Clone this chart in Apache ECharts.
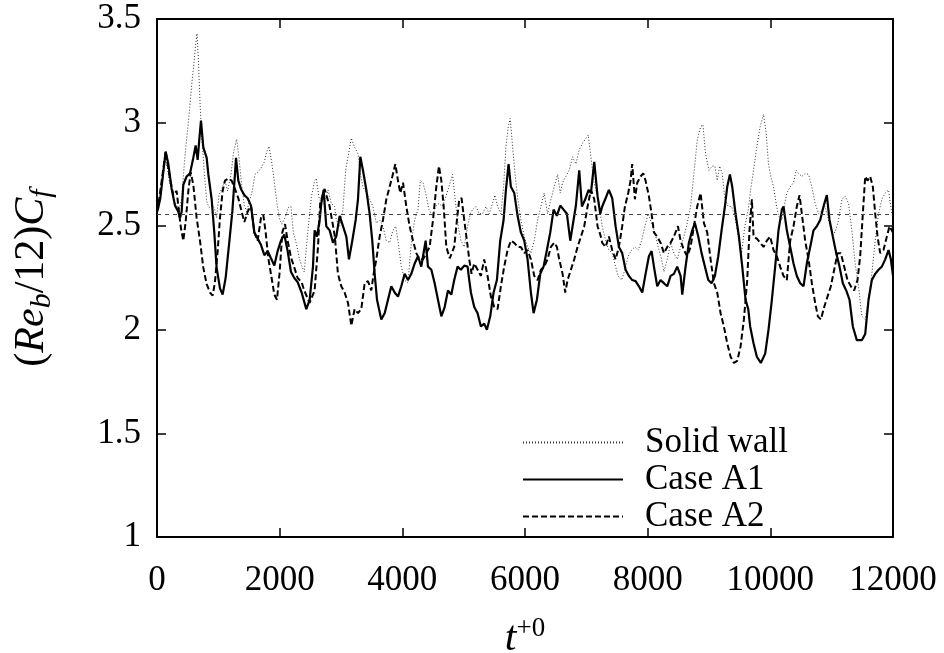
<!DOCTYPE html>
<html>
<head>
<meta charset="utf-8">
<script src="https://cdn.jsdelivr.net/npm/echarts@6/dist/echarts.min.js"></script>
<style>
html,body{margin:0;padding:0;background:#fff;}
#chart{width:944px;height:653px;}
</style>
</head>
<body>
<div id="chart"></div>
<script>
const seriesNames = ['Solid wall', 'Case A1', 'Case A2'];
const xTicks = {min: 0, max: 12000, interval: 2000};
const yTicks = {min: 1, max: 3.5, interval: 0.5};
const solidWallMean = 2.555;

const solidWall = [[0,2.58],[60,2.65],[141,2.83],[212,2.70],[266,2.635],[320,2.60],[358,2.57],[402,2.635],[445,2.80],[483,2.92],[527,3.05],[565,3.18],[603,3.29],[630,3.375],[652,3.43],[674,3.31],[701,3.10],[728,2.94],[771,2.76],[810,2.62],[848,2.59],[891,2.60],[934,2.59],[972,2.54],[1011,2.65],[1054,2.68],[1108,2.72],[1152,2.67],[1206,2.75],[1250,2.86],[1299,2.92],[1337,2.83],[1380,2.70],[1424,2.60],[1462,2.57],[1505,2.62],[1554,2.67],[1598,2.75],[1641,2.76],[1695,2.78],[1750,2.81],[1788,2.86],[1826,2.885],[1869,2.81],[1913,2.715],[1951,2.62],[1995,2.54],[2032,2.51],[2087,2.54],[2141,2.59],[2184,2.595],[2222,2.47],[2277,2.41],[2320,2.345],[2358,2.31],[2400,2.28],[2461,2.48],[2516,2.64],[2570,2.72],[2597,2.73],[2641,2.64],[2679,2.61],[2733,2.61],[2788,2.675],[2842,2.61],[2896,2.595],[2923,2.53],[2978,2.50],[3032,2.58],[3076,2.77],[3114,2.835],[3168,2.925],[3222,2.88],[3277,2.85],[3315,2.755],[3358,2.69],[3413,2.66],[3467,2.63],[3521,2.595],[3576,2.515],[3630,2.53],[3684,2.50],[3739,2.43],[3793,2.42],[3847,2.48],[3891,2.50],[3929,2.43],[3983,2.305],[4038,2.24],[4092,2.225],[4146,2.42],[4201,2.53],[4255,2.58],[4293,2.72],[4337,2.71],[4380,2.66],[4434,2.58],[4489,2.55],[4543,2.595],[4597,2.61],[4652,2.595],[4706,2.64],[4760,2.69],[4819,2.75],[4874,2.595],[4912,2.50],[4955,2.43],[5009,2.40],[5064,2.50],[5107,2.56],[5145,2.58],[5200,2.595],[5254,2.56],[5308,2.56],[5363,2.595],[5417,2.56],[5471,2.61],[5509,2.65],[5553,2.595],[5607,2.56],[5651,2.69],[5689,2.885],[5727,2.98],[5759,3.02],[5797,2.885],[5836,2.755],[5879,2.64],[5933,2.53],[5988,2.45],[6042,2.40],[6096,2.37],[6151,2.43],[6205,2.53],[6259,2.595],[6313,2.66],[6368,2.56],[6422,2.63],[6477,2.69],[6531,2.75],[6575,2.66],[6613,2.71],[6667,2.74],[6721,2.77],[6775,2.835],[6830,2.80],[6884,2.87],[6939,2.90],[6993,2.925],[7031,2.94],[7075,2.835],[7118,2.72],[7156,2.675],[7194,2.63],[7259,2.50],[7314,2.43],[7368,2.385],[7422,2.37],[7477,2.305],[7520,2.26],[7575,2.24],[7629,2.29],[7683,2.355],[7738,2.385],[7792,2.40],[7846,2.385],[7901,2.43],[7955,2.50],[8009,2.56],[8064,2.515],[8118,2.47],[8172,2.40],[8227,2.34],[8265,2.28],[8319,2.34],[8374,2.42],[8428,2.37],[8482,2.34],[8537,2.40],[8591,2.45],[8645,2.515],[8700,2.595],[8754,2.755],[8808,2.915],[8863,2.98],[8901,2.99],[8944,2.85],[8999,2.77],[9053,2.79],[9096,2.79],[9134,2.72],[9173,2.79],[9216,2.755],[9259,2.63],[9314,2.595],[9368,2.595],[9422,2.55],[9477,2.45],[9531,2.37],[9585,2.50],[9640,2.58],[9671,2.66],[9726,2.77],[9780,2.885],[9834,2.98],[9889,3.04],[9932,2.95],[9970,2.80],[10008,2.74],[10052,2.69],[10095,2.61],[10133,2.55],[10188,2.53],[10226,2.595],[10269,2.66],[10324,2.69],[10378,2.71],[10421,2.77],[10459,2.755],[10514,2.74],[10568,2.755],[10623,2.75],[10677,2.69],[10731,2.61],[10786,2.56],[10840,2.575],[10894,2.595],[10948,2.53],[11003,2.47],[11057,2.47],[11112,2.53],[11166,2.63],[11220,2.645],[11275,2.61],[11329,2.48],[11383,2.32],[11438,2.21],[11492,2.065],[11547,2.05],[11601,2.145],[11655,2.27],[11710,2.43],[11764,2.56],[11818,2.63],[11873,2.66],[11927,2.675],[11981,2.56],[12000,2.54]];

const caseA1 = [[0,2.57],[21,2.59],[54,2.635],[141,2.86],[185,2.80],[239,2.68],[293,2.60],[347,2.57],[375,2.54],[402,2.57],[429,2.70],[483,2.74],[538,2.755],[592,2.83],[630,2.89],[663,2.82],[690,2.92],[717,3.01],[755,2.88],[810,2.83],[837,2.75],[891,2.63],[934,2.47],[972,2.30],[1027,2.20],[1070,2.17],[1119,2.25],[1174,2.41],[1228,2.57],[1271,2.75],[1288,2.83],[1326,2.72],[1369,2.68],[1424,2.65],[1478,2.635],[1532,2.60],[1587,2.47],[1641,2.44],[1695,2.41],[1750,2.36],[1804,2.38],[1858,2.345],[1913,2.31],[1967,2.38],[2021,2.43],[2076,2.46],[2130,2.38],[2184,2.28],[2239,2.25],[2293,2.23],[2358,2.18],[2434,2.10],[2489,2.145],[2543,2.305],[2570,2.48],[2608,2.45],[2652,2.53],[2679,2.61],[2717,2.675],[2760,2.50],[2815,2.48],[2869,2.42],[2923,2.45],[2978,2.55],[3032,2.50],[3087,2.45],[3130,2.34],[3184,2.43],[3239,2.53],[3277,2.63],[3315,2.835],[3358,2.77],[3413,2.675],[3467,2.56],[3510,2.43],[3549,2.27],[3587,2.145],[3657,2.05],[3712,2.08],[3766,2.145],[3820,2.21],[3875,2.18],[3929,2.16],[3983,2.21],[4038,2.27],[4092,2.24],[4146,2.27],[4201,2.32],[4255,2.355],[4309,2.305],[4380,2.43],[4418,2.305],[4473,2.29],[4527,2.225],[4581,2.145],[4636,2.065],[4690,2.11],[4744,2.19],[4799,2.17],[4846,2.24],[4901,2.305],[4955,2.29],[5009,2.31],[5064,2.305],[5091,2.24],[5118,2.18],[5172,2.11],[5227,2.08],[5281,2.016],[5335,2.03],[5379,2.00],[5433,2.065],[5488,2.18],[5542,2.24],[5596,2.43],[5651,2.53],[5689,2.675],[5732,2.80],[5770,2.69],[5825,2.66],[5879,2.55],[5933,2.47],[5988,2.43],[6042,2.34],[6096,2.18],[6140,2.08],[6194,2.145],[6249,2.27],[6303,2.305],[6357,2.385],[6412,2.47],[6466,2.58],[6520,2.55],[6575,2.60],[6629,2.58],[6683,2.56],[6738,2.43],[6792,2.53],[6830,2.60],[6884,2.77],[6928,2.595],[6982,2.63],[7037,2.675],[7075,2.66],[7129,2.81],[7183,2.645],[7227,2.56],[7259,2.595],[7314,2.635],[7368,2.675],[7422,2.635],[7477,2.50],[7531,2.40],[7585,2.37],[7640,2.29],[7694,2.26],[7748,2.24],[7803,2.235],[7857,2.21],[7912,2.18],[7966,2.27],[8020,2.355],[8064,2.38],[8102,2.305],[8156,2.21],[8210,2.24],[8265,2.225],[8319,2.21],[8374,2.26],[8428,2.27],[8482,2.305],[8537,2.26],[8564,2.17],[8618,2.305],[8672,2.42],[8727,2.48],[8770,2.515],[8825,2.45],[8879,2.37],[8933,2.305],[8988,2.24],[9042,2.225],[9096,2.26],[9151,2.355],[9205,2.48],[9259,2.595],[9297,2.69],[9341,2.75],[9379,2.69],[9433,2.56],[9488,2.45],[9542,2.305],[9596,2.145],[9640,2.10],[9671,2.016],[9726,1.935],[9780,1.87],[9845,1.84],[9916,1.885],[9970,2.00],[10025,2.145],[10079,2.305],[10133,2.48],[10188,2.58],[10215,2.595],[10269,2.48],[10324,2.40],[10378,2.32],[10432,2.26],[10487,2.225],[10541,2.21],[10595,2.32],[10650,2.40],[10704,2.48],[10758,2.50],[10813,2.53],[10867,2.595],[10921,2.65],[10965,2.53],[11019,2.45],[11074,2.37],[11128,2.305],[11182,2.225],[11237,2.19],[11291,2.145],[11345,2.016],[11410,1.95],[11492,1.95],[11547,1.98],[11601,2.145],[11655,2.24],[11710,2.27],[11764,2.29],[11818,2.305],[11873,2.34],[11927,2.385],[11965,2.34],[12000,2.26]];

const caseA2 = [[0,2.57],[21,2.60],[141,2.86],[212,2.73],[266,2.65],[320,2.67],[358,2.57],[391,2.49],[429,2.43],[467,2.52],[511,2.67],[549,2.76],[592,2.70],[646,2.54],[701,2.43],[755,2.30],[810,2.22],[864,2.18],[907,2.165],[945,2.23],[989,2.38],[1027,2.54],[1070,2.67],[1108,2.72],[1163,2.73],[1217,2.72],[1271,2.68],[1326,2.635],[1380,2.57],[1424,2.52],[1478,2.57],[1532,2.60],[1587,2.47],[1641,2.43],[1695,2.54],[1733,2.555],[1772,2.47],[1815,2.345],[1869,2.25],[1913,2.17],[1956,2.145],[2000,2.28],[2043,2.47],[2087,2.51],[2130,2.43],[2184,2.35],[2239,2.30],[2293,2.25],[2358,2.23],[2400,2.19],[2489,2.13],[2570,2.19],[2625,2.40],[2660,2.61],[2733,2.68],[2815,2.595],[2900,2.45],[2950,2.27],[3005,2.21],[3059,2.18],[3114,2.13],[3168,2.02],[3222,2.10],[3277,2.08],[3331,2.10],[3386,2.225],[3440,2.235],[3494,2.19],[3532,2.27],[3576,2.34],[3630,2.45],[3684,2.53],[3739,2.63],[3793,2.69],[3837,2.74],[3886,2.80],[3929,2.72],[3967,2.66],[4011,2.71],[4065,2.595],[4119,2.50],[4174,2.43],[4228,2.37],[4282,2.34],[4337,2.34],[4391,2.37],[4445,2.40],[4500,2.53],[4554,2.69],[4597,2.79],[4636,2.72],[4674,2.595],[4717,2.40],[4772,2.345],[4846,2.40],[4890,2.53],[4928,2.63],[4966,2.635],[5009,2.53],[5053,2.43],[5091,2.34],[5129,2.27],[5172,2.32],[5227,2.29],[5281,2.26],[5335,2.34],[5390,2.26],[5444,2.16],[5498,2.11],[5553,2.10],[5607,2.21],[5661,2.305],[5716,2.385],[5770,2.43],[5825,2.42],[5879,2.40],[5933,2.40],[5988,2.37],[6042,2.385],[6096,2.34],[6151,2.26],[6205,2.24],[6259,2.29],[6313,2.305],[6368,2.34],[6422,2.40],[6477,2.42],[6520,2.40],[6558,2.34],[6613,2.27],[6656,2.18],[6694,2.24],[6748,2.29],[6803,2.34],[6857,2.40],[6912,2.45],[6966,2.50],[7020,2.595],[7075,2.675],[7129,2.63],[7183,2.50],[7227,2.46],[7259,2.42],[7314,2.40],[7368,2.45],[7422,2.385],[7477,2.34],[7531,2.40],[7585,2.50],[7629,2.595],[7683,2.66],[7721,2.72],[7748,2.80],[7792,2.63],[7830,2.71],[7884,2.74],[7928,2.755],[7966,2.72],[8020,2.645],[8064,2.56],[8102,2.47],[8156,2.45],[8210,2.42],[8265,2.37],[8319,2.40],[8374,2.42],[8428,2.45],[8493,2.50],[8537,2.43],[8591,2.385],[8645,2.355],[8700,2.40],[8754,2.50],[8808,2.595],[8863,2.66],[8917,2.515],[8971,2.47],[9026,2.34],[9080,2.225],[9134,2.18],[9189,2.08],[9243,2.016],[9297,1.935],[9352,1.87],[9406,1.84],[9460,1.85],[9515,1.92],[9569,2.05],[9623,2.24],[9660,2.48],[9699,2.63],[9726,2.45],[9780,2.44],[9834,2.42],[9889,2.40],[9943,2.43],[9997,2.45],[10052,2.385],[10106,2.355],[10160,2.305],[10215,2.26],[10269,2.24],[10324,2.43],[10378,2.50],[10432,2.595],[10476,2.65],[10514,2.56],[10568,2.43],[10623,2.34],[10677,2.225],[10731,2.13],[10775,2.065],[10824,2.05],[10878,2.11],[10932,2.16],[10987,2.21],[11041,2.29],[11095,2.37],[11150,2.37],[11204,2.305],[11258,2.24],[11313,2.21],[11367,2.19],[11421,2.24],[11465,2.355],[11508,2.56],[11547,2.74],[11584,2.72],[11628,2.74],[11672,2.69],[11710,2.56],[11748,2.45],[11791,2.37],[11845,2.385],[11900,2.45],[11943,2.50],[12000,2.47]];

const FONT = '"Liberation Serif", "Times New Roman", serif';
const FS = 35;
const TS = 42;
const chart = echarts.init(document.getElementById('chart'), null, {renderer: 'canvas'});

const axisCommon = {
  axisLine: {show: true, onZero: false, lineStyle: {color: '#000', width: 2}},
  axisTick: {show: true, inside: true, length: 9, lineStyle: {color: '#000', width: 1.5}},
  splitLine: {show: false}
};

chart.setOption({
  animation: false,
  backgroundColor: '#fff',
  textStyle: {fontFamily: FONT, color: '#000'},
  grid: {left: 157, right: 51, top: 19, bottom: 116, containLabel: false, outerBoundsMode: 'none'},
  legend: {
    orient: 'vertical',
    left: 522, top: 425, padding: 0,
    itemWidth: 100, itemHeight: 14, itemGap: 2,
    textStyle: {fontFamily: FONT, fontSize: FS, color: '#000', padding: [0, 0, 0, 17]},
    data: seriesNames.map((n) => ({name: n, itemStyle: {opacity: 0}}))
  },
  xAxis: [
    Object.assign({
      type: 'value', position: 'bottom', min: xTicks.min, max: xTicks.max, interval: xTicks.interval,
      axisLabel: {fontFamily: FONT, fontSize: FS, color: '#000', margin: 26, formatter: (v) => String(v), hideOverlap: false},
      name: '{i|t}{sup|+0}', nameLocation: 'middle', nameGap: 78,
      nameTextStyle: {rich: {
        i: {fontFamily: FONT, fontStyle: 'italic', fontSize: TS, color: '#000'},
        sup: {fontFamily: FONT, fontSize: 27, color: '#000', padding: [0, 0, 20, 0]}
      }}
    }, axisCommon),
    Object.assign({
      type: 'value', position: 'top', min: xTicks.min, max: xTicks.max, interval: xTicks.interval,
      axisLabel: {show: false}
    }, axisCommon)
  ],
  yAxis: [
    Object.assign({
      type: 'value', position: 'left', min: yTicks.min, max: yTicks.max, interval: yTicks.interval,
      axisLabel: {fontFamily: FONT, fontSize: FS, color: '#000', margin: 16},
      name: '{p|(}{i|Re}{s|b}{p|/12)}{i|C}{s|f}', nameLocation: 'middle', nameGap: 100, nameRotate: 90,
      nameTextStyle: {rich: {
        p: {fontFamily: FONT, fontSize: TS, color: '#000'},
        i: {fontFamily: FONT, fontStyle: 'italic', fontSize: TS, color: '#000'},
        s: {fontFamily: FONT, fontStyle: 'italic', fontSize: 30, color: '#000', padding: [20, 0, 0, 0]}
      }}
    }, axisCommon),
    Object.assign({
      type: 'value', position: 'right', min: yTicks.min, max: yTicks.max, interval: yTicks.interval,
      axisLabel: {show: false}
    }, axisCommon)
  ],
  series: [
    {
      name: seriesNames[0], type: 'line', data: solidWall, showSymbol: false, symbol: 'none',
      lineStyle: {color: '#333', width: 1, type: [1, 2]},
      itemStyle: {color: '#333'},
      markLine: {
        silent: true, symbol: 'none', label: {show: false},
        lineStyle: {color: '#444', width: 1, type: [4, 4]},
        data: [{yAxis: solidWallMean}]
      },
      z: 2
    },
    {
      name: seriesNames[1], type: 'line', data: caseA1, showSymbol: false, symbol: 'none',
      lineStyle: {color: '#000', width: 2.2, type: 'solid'},
      itemStyle: {color: '#000'}, z: 4
    },
    {
      name: seriesNames[2], type: 'line', data: caseA2, showSymbol: false, symbol: 'none',
      lineStyle: {color: '#000', width: 2, type: [6, 3]},
      itemStyle: {color: '#000'}, z: 3
    }
  ]
});
</script>
</body>
</html>
